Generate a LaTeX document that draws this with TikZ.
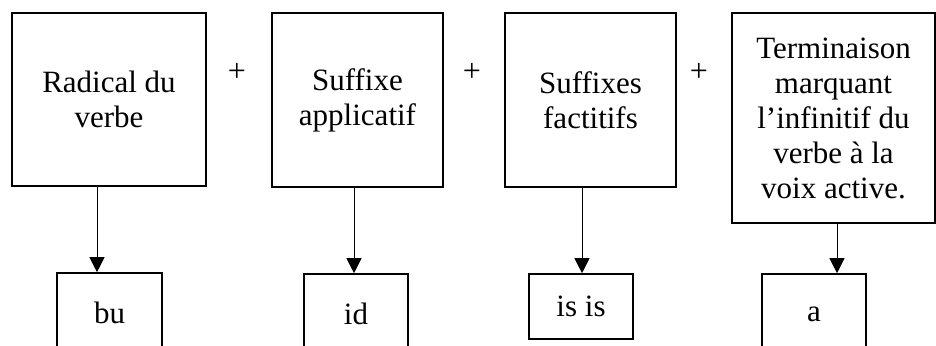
\documentclass[tikz,border=0pt]{standalone}
\usepackage{fontspec}
\setmainfont{Liberation Serif}
\usetikzlibrary{arrows.meta}
\tikzset{
  x=1pt, y=-1pt,
  box/.style={draw, line width=1.6pt, inner sep=0pt, align=center,
              font=\fontsize{31}{35}\selectfont},
  plus/.style={inner sep=0pt, font=\fontsize{32}{35}\selectfont},
  arr/.style={line width=1pt, -{Triangle[width=15pt,length=15pt]}}
}
\begin{document}
\begin{tikzpicture}
\useasboundingbox (0,0) rectangle (936,345);
\clip (0,0) rectangle (936,345);
% top boxes
\node[box, minimum width=194pt, minimum height=173pt] (b1) at (109,99.5) {Radical du\\verbe};
\node[box, minimum width=171pt, minimum height=174pt] (b2) at (357.5,100) {Suffixe\\applicatif};
\node[box, minimum width=171pt, minimum height=174pt] (b3) at (590.5,100) {Suffixes\\factitifs};
\node[box, minimum width=203pt, minimum height=210pt] (b4) at (833.5,118) {Terminaison\\marquant\\l’infinitif du\\verbe à la\\voix active.};
% plus signs
\node[plus] (p1) at (237,72) {+};
\node[plus] (p2) at (472,72) {+};
\node[plus] (p3) at (699,72) {+};
% bottom boxes
\node[box, minimum width=105pt, minimum height=80pt] (c1) at (109.5,313) {bu};
\node[box, minimum width=104pt, minimum height=80pt] (c2) at (356,314) {id};
\node[box, minimum width=104pt, minimum height=65pt] (c3) at (581,306.5) {is is};
\node[box, minimum width=104pt, minimum height=80pt] (c4) at (814,314) {a};
% arrows
\draw[arr] (b1.south -| 97,0) -- (c1.north -| 97,0);
\draw[arr] (b2.south -| 354,0) -- (c2.north -| 354,0);
\draw[arr] (b3.south -| 582,0) -- (c3.north -| 582,0);
\draw[arr] (b4.south -| 837,0) -- (c4.north -| 837,0);
\end{tikzpicture}
\end{document}
